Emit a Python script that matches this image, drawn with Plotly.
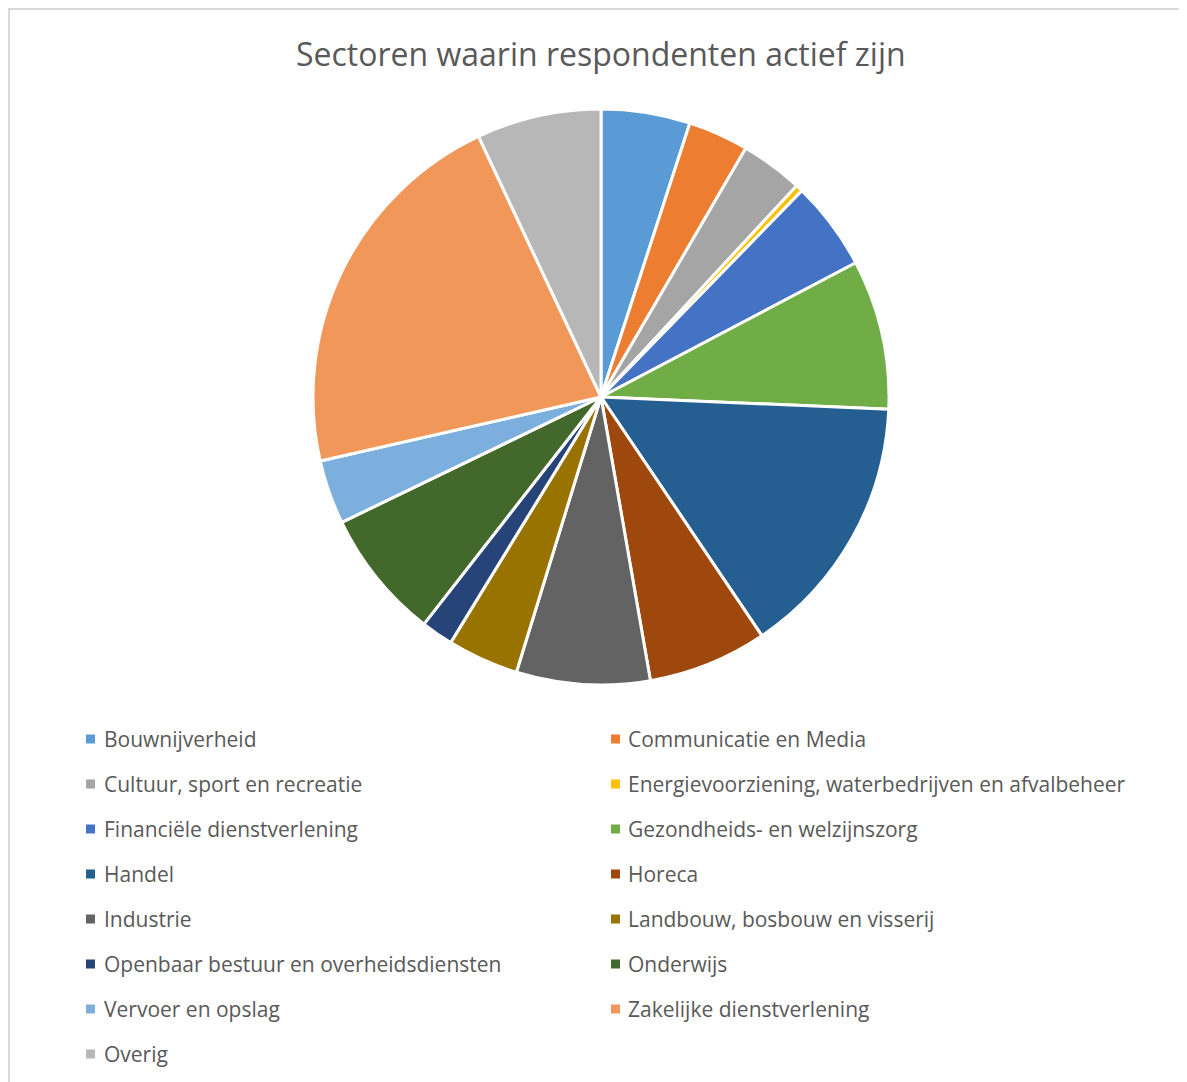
import plotly.graph_objects as go

# page body adds an 8px offset; figure is sized to fit the window
OFF = 8
W, H = 1187 - OFF, 1082 - OFF

sectors = [
    "Bouwnijverheid",
    "Communicatie en Media",
    "Cultuur, sport en recreatie",
    "Energievoorziening, waterbedrijven en afvalbeheer",
    "Financiële dienstverlening",
    "Gezondheids- en welzijnszorg",
    "Handel",
    "Horeca",
    "Industrie",
    "Landbouw, bosbouw en visserij",
    "Openbaar bestuur en overheidsdiensten",
    "Onderwijs",
    "Vervoer en opslag",
    "Zakelijke dienstverlening",
    "Overig",
]
shares = [5.0, 3.4, 3.5, 0.4, 5.0, 8.4, 14.9, 6.7, 7.5, 4.0, 1.8, 7.3, 3.6, 21.6, 7.0]
colors = ["#5B9BD5", "#ED7D31", "#A5A5A5", "#FFC000", "#4472C4", "#70AD47",
          "#255E91", "#9E480E", "#636363", "#997300", "#264478", "#43682B",
          "#7CAFDD", "#F1975A", "#B7B7B7"]

FONT = "Open Sans"
TXT = "#595959"


def px(x):
    return (x - OFF) / W


def py(y):
    return 1 - (y - OFF) / H


cx, cy, r = 601, 397, 288

fig = go.Figure(go.Pie(
    labels=sectors, values=shares, sort=False, direction="clockwise", rotation=0,
    marker=dict(colors=colors, line=dict(color="white", width=3)),
    textinfo="none", hoverinfo="label+percent", showlegend=False,
    domain=dict(x=[px(cx - r), px(cx + r)], y=[py(cy + r), py(cy - r)]),
))

annotations = [dict(
    text="Sectoren waarin respondenten actief zijn", x=px(cx), y=py(53),
    xref="paper", yref="paper", xanchor="center", yanchor="middle", showarrow=False,
    font=dict(family=FONT, size=32, color=TXT),
)]
shapes = [dict(type="rect", xref="paper", yref="paper",
               x0=px(9), x1=1.05, y0=-0.05, y1=py(9),
               line=dict(color="#D9D9D9", width=2), fillcolor="rgba(0,0,0,0)", layer="below")]

col_marker = [90.5, 615.5]
col_text = [102, 626]
for i, (name, c) in enumerate(zip(sectors, colors)):
    col = i % 2
    row = i // 2
    yc = 739 + 45 * row
    mx = col_marker[col]
    shapes.append(dict(type="rect", xref="paper", yref="paper",
                       x0=px(mx - 4.5), x1=px(mx + 4.5),
                       y0=py(yc + 4.5), y1=py(yc - 4.5),
                       line=dict(width=0), fillcolor=c))
    annotations.append(dict(text=name, x=px(col_text[col]), y=py(yc),
                            xref="paper", yref="paper", xanchor="left", yanchor="middle",
                            showarrow=False, font=dict(family=FONT, size=21, color=TXT)))

fig.update_layout(
    width=W, height=H, margin=dict(l=0, r=0, t=0, b=0),
    paper_bgcolor="white", plot_bgcolor="white",
    annotations=annotations, shapes=shapes, showlegend=False,
)

fig.write_html("out.html")
